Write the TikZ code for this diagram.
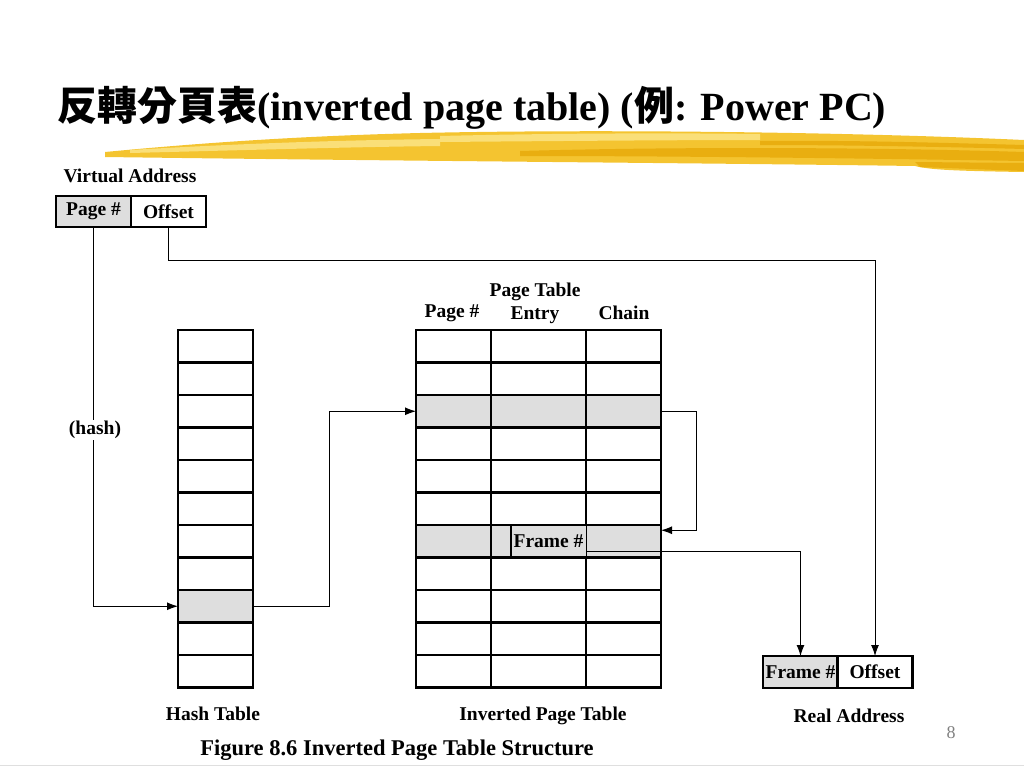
\documentclass[tikz,border=0pt]{standalone}
\usepackage{fontspec}
\setmainfont{Liberation Serif}
\newfontfamily\cjk{Noto Sans CJK TC}
\usetikzlibrary{arrows.meta, positioning, calc}
\definecolor{cellgray}{HTML}{DEDEDE}
\definecolor{brushgold}{HTML}{F4C430}
\definecolor{brushdark}{HTML}{E9AE10}
\definecolor{brushlight}{HTML}{FADF78}
\tikzset{
  cell/.style={draw, line width=2.5pt, minimum width=75pt, minimum height=32.5pt, inner sep=0pt, outer sep=0pt, font=\fontsize{19.5}{22}\selectfont\bfseries},
  wide/.style={cell, minimum width=95pt},
  shade/.style={fill=cellgray},
  lbl/.style={font=\fontsize{19.5}{23}\selectfont\bfseries, align=center, inner sep=1pt},
  link/.style={line width=1pt, -{Latex[length=11pt,width=8pt]}},
}
\begin{document}
\begin{tikzpicture}[x=1pt,y=-1pt]
\useasboundingbox (0,0) rectangle (1024,768);

% Brush stroke under the title
\fill[brushgold] (105,152) .. controls (200,143) and (300,136) .. (420,133) .. controls (600,129) and (850,132) .. (1024,140) -- (1024,172) .. controls (960,171) and (930,170) .. (915,166) .. controls (700,163) and (400,161) .. (105,157) -- cycle;
\fill[brushlight] (130,150) .. controls (250,143) and (350,140) .. (440,139) -- (440,146) .. controls (350,147) and (250,150) .. (130,153) -- cycle;
\fill[brushlight] (440,136) .. controls (560,133) and (680,133) .. (760,134) -- (760,140) .. controls (680,140) and (560,141) .. (440,142) -- cycle;
\fill[brushdark] (520,151) .. controls (700,146) and (900,148) .. (1024,152) -- (1024,161) .. controls (900,159) and (700,156) .. (520,156) -- cycle;
\fill[brushdark] (760,141) .. controls (850,140) and (950,143) .. (1024,145) -- (1024,149) .. controls (950,147) and (850,145) .. (760,145) -- cycle;
\fill[brushdark] (915,162) -- (1024,163) -- (1024,171) -- (920,167) -- cycle;

% Title
\node[anchor=west, font=\fontsize{40}{44}\selectfont\bfseries] (title) at (54,108) {{\cjk 反轉分頁表}(inverted page table) ({\cjk 例}: Power PC)};

% Virtual address
\node[lbl] (va) at (130,176) {Virtual Address};
\node[cell, shade, minimum height=31pt] (pg) at (93.5,211.5) {Page \#};
\node[cell, minimum height=31pt] (off) at (168.5,211.5) {Offset};

% Hash table
\foreach \i in {0,...,10} {
    \node[cell] (h\i) at (215.5,346.25+32.5*\i) {};
}
\node[cell, shade] (h8) at (215.5,606.25) {};
\node[lbl] (ht) at (213,714) {Hash Table};

% Inverted page table
\foreach \i in {0,...,10} {
    \node[cell] (p\i) at (453.5,346.25+32.5*\i) {};
    \node[wide] (e\i) at (538.5,346.25+32.5*\i) {};
    \node[cell] (c\i) at (623.5,346.25+32.5*\i) {};
}
\foreach \i in {2,6} {
    \node[cell, shade] (p\i) at (453.5,346.25+32.5*\i) {};
    \node[wide, shade] (e\i) at (538.5,346.25+32.5*\i) {};
    \node[cell, shade] (c\i) at (623.5,346.25+32.5*\i) {};
}
\node[cell, shade, draw=none, minimum height=30pt] (fr) at (548.5,541.25) {Frame \#};
\draw[line width=2.5pt] (fr.north west) -- (fr.south west);
\node[lbl] (hpg) at (452,313) {Page \#};
\node[lbl] (hpte) at (535,303) {Page Table\\Entry};
\node[lbl] (hch) at (624,313) {Chain};
\node[lbl] (ipt) at (543,716) {Inverted Page Table};

% Real address
\node[cell, shade, minimum height=32pt] (rfr) at (800.5,672) {Frame \#};
\node[cell, minimum height=32pt] (roff) at (875,672) {Offset};
\node[lbl] (ra) at (849,716) {Real Address};

% Connectors
\draw[link] (pg.south) |- (h8.west);
\node[lbl, fill=white] (hash) at (95,430) {(hash)};
\draw[link] (off.south) -- ++(0,33) -| (roff.north);
\draw[link] (h8.east) -- ++(76,0) |- (p2.west);
\draw[link] (c2.east) -- ++(35,0) |- ([yshift=11pt]c6.east);
\draw[link] ([yshift=-10pt]fr.east) -| (rfr.north);

% Caption and page number
\node[lbl, font=\fontsize{22.5}{26}\selectfont\bfseries] (fig) at (397,750) {Figure 8.6 Inverted Page Table Structure};
\node[font=\fontsize{18}{20}\selectfont, text=gray] (pnum) at (951,733) {8};
\draw[gray!25] (0,765) -- (1024,765);
\end{tikzpicture}
\end{document}
